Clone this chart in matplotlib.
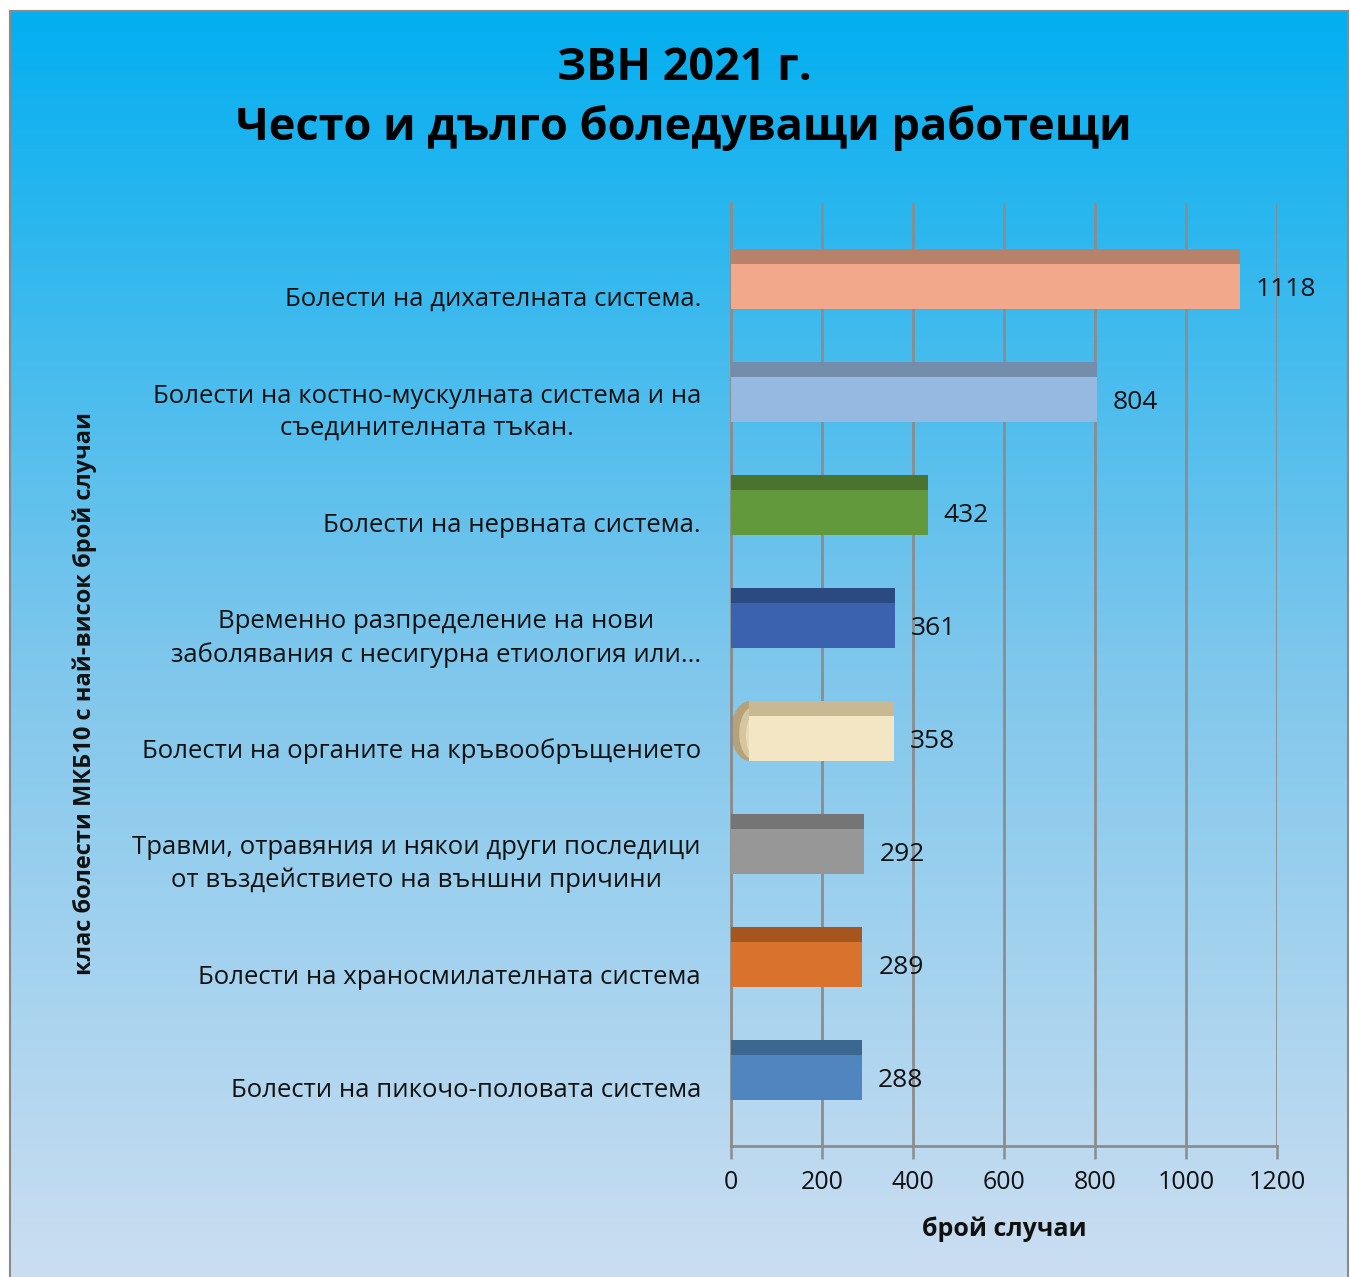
import numpy as np
import matplotlib.pyplot as plt
import matplotlib
from matplotlib.colors import LinearSegmentedColormap
from matplotlib.patches import Ellipse

matplotlib.rcParams['font.family'] = ['Open Sans', 'DejaVu Sans']

# data
categories = [
    'Болести на дихателната система.',
    'Болести на костно-мускулната система и на\nсъединителната тъкан.',
    'Болести на нервната система.',
    'Временно разпределение на нови\nзаболявания с несигурна етиология или...',
    'Болести на органите на кръвообръщението',
    'Травми, отравяния и някои други последици\nот въздействието на външни причини',
    'Болести на храносмилателната система',
    'Болести на пикочо-половата система',
]
values = [1118, 804, 432, 361, 358, 292, 289, 288]
body_colors = ['#F2A98B', '#96B9E1', '#63993D', '#3A62AE', '#F3E6C5', '#979797', '#D9722D', '#4F86C0']
top_colors = ['#B8826A', '#738DAA', '#4A7330', '#2C4A82', '#C9B894', '#757575', '#A5561F', '#3C6790']
xticks = [0, 200, 400, 600, 800, 1000, 1200]

W, H = 1350, 1277
fig = plt.figure(figsize=(W / 100, H / 100), dpi=100, facecolor='white')

# gradient background with frame
bg = fig.add_axes([10 / W, 0, (W - 12) / W, (H - 11) / H])
grad = LinearSegmentedColormap.from_list('bg', [(0.0, '#03AFF0'), (0.5, '#7CC6EC'), (1.0, '#CBDEF1')])
bg.imshow(np.linspace(0, 1, 256).reshape(-1, 1), aspect='auto', cmap=grad, extent=[0, 1, 0, 1])
bg.set_xlim(0, 1)
bg.set_ylim(0, 1)
bg.set_xticks([])
bg.set_yticks([])
for s in bg.spines.values():
    s.set_color('#8A8A8A')
    s.set_linewidth(1.5)
bg.spines['bottom'].set_visible(False)

ax = fig.add_axes([731 / W, 1 - 1146 / H, 546 / W, 943 / H])
ax.patch.set_alpha(0)
n = len(values)
ax.set_xlim(0, 1200)
ax.set_ylim(n - 1 + 0.673, -0.673)

top_h = 0.133
body_h = 0.398
for i, (v, bc, tc) in enumerate(zip(values, body_colors, top_colors)):
    start = 40 if i == 4 else 0   # the textured bar has a rounded left end
    ax.barh(i - 0.265, v - start, left=start, height=top_h, align='edge', color=tc, zorder=3)
    ax.barh(i - 0.132, v - start, left=start, height=body_h, align='edge', color=bc, zorder=3)
    ax.annotate(str(v), (v, i + 0.09), xytext=(16, 0), textcoords='offset pixels',
                ha='left', va='center', fontsize=19, color='#111111', zorder=5)

# rounded left end of the textured bar (drawn under the bar)
ax.add_patch(Ellipse((41, 4), 82, 0.53, color='#B5A17A', zorder=2.5, lw=0))
ax.add_patch(Ellipse((50, 4.02), 64, 0.47, color='#D6C59E', zorder=2.6, lw=0))
ax.add_patch(Ellipse((58, 4.04), 50, 0.42, color='#EADBB6', zorder=2.7, lw=0))

# category labels
for i, c in enumerate(categories):
    ax.text(-30 / 0.455, i + 0.18, c, ha='right', va='center', multialignment='center',
            fontsize=18.5, color='#111111', linespacing=1.38)

ax.set_xticks(xticks)
ax.set_xticklabels([str(t) for t in xticks], fontsize=18, color='#111111')
ax.set_yticks([])
ax.tick_params(axis='x', length=9, width=1.8, color='#8C8C8C', pad=8)
ax.grid(axis='x', color='#8C8C8C', linewidth=2, zorder=0)
ax.set_axisbelow(True)
for k in ['top', 'right']:
    ax.spines[k].set_visible(False)
for k in ['left', 'bottom']:
    ax.spines[k].set_color('#8C8C8C')
    ax.spines[k].set_linewidth(2)

fig.text(1004 / W, 1 - 1229 / H, 'брой случаи', ha='center', va='center',
         fontsize=18, fontweight='bold', color='#111111')
fig.text(85 / W, 1 - 693 / H, 'клас болести МКБ10 с най-висок брой случаи', rotation=90,
         ha='center', va='center', fontsize=17, fontweight='bold', color='#111111')

fig.text(684 / W, 1 - 68 / H, 'ЗВН 2021 г.', ha='center', va='center',
         fontsize=32.5, fontweight='bold', color='#000000')
fig.text(684 / W, 1 - 128 / H, 'Често и дълго боледуващи работещи', ha='center', va='center',
         fontsize=32.5, fontweight='bold', color='#000000')

fig.savefig('out.png', dpi=100)
